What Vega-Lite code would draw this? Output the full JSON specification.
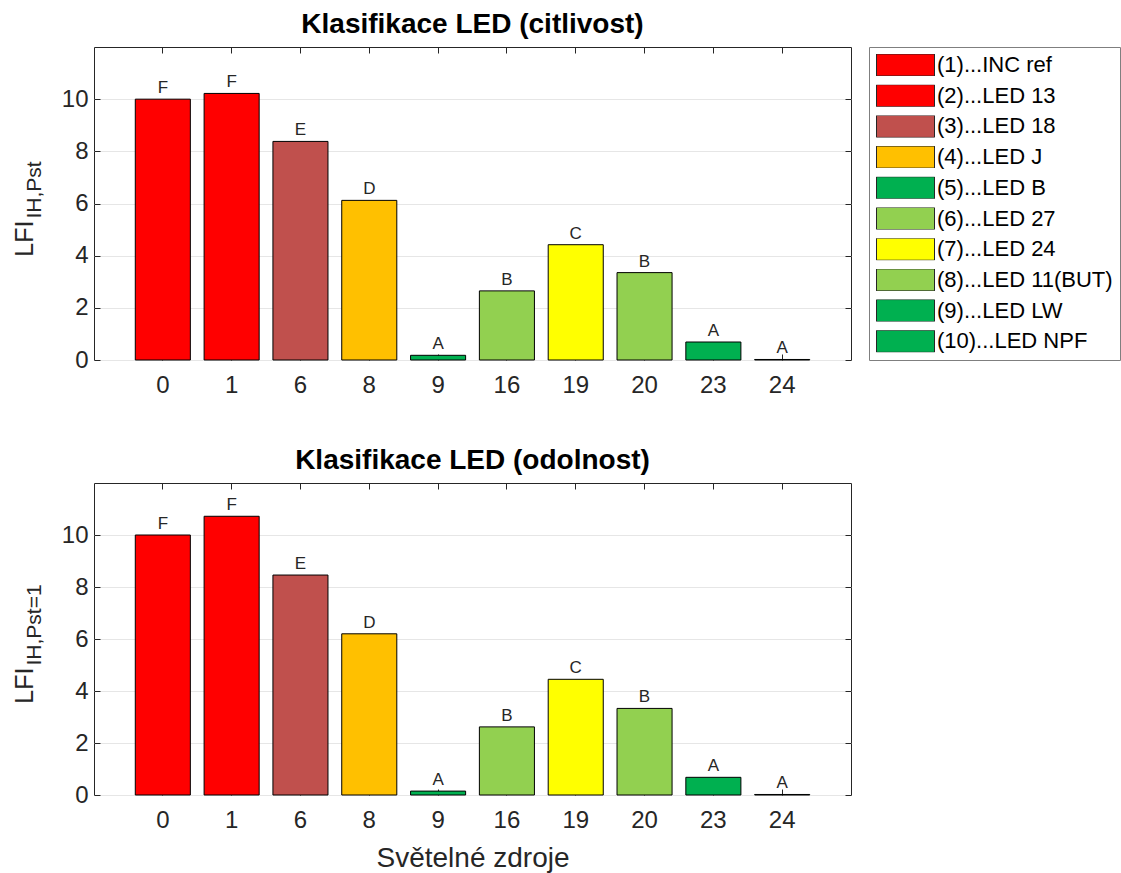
{
  "$schema": "https://vega.github.io/schema/vega-lite/v6.json",
  "background": "white",
  "padding": {"left": 11, "top": 10, "right": 0, "bottom": 5},
  "datasets": {
    "bars": [
      {"panel": "citlivost", "src": 0, "name": "(1)...INC ref", "value": 10.0, "grade": "F"},
      {"panel": "citlivost", "src": 1, "name": "(2)...LED 13", "value": 10.22, "grade": "F"},
      {"panel": "citlivost", "src": 6, "name": "(3)...LED 18", "value": 8.38, "grade": "E"},
      {"panel": "citlivost", "src": 8, "name": "(4)...LED J", "value": 6.12, "grade": "D"},
      {"panel": "citlivost", "src": 9, "name": "(5)...LED B", "value": 0.18, "grade": "A"},
      {"panel": "citlivost", "src": 16, "name": "(6)...LED 27", "value": 2.65, "grade": "B"},
      {"panel": "citlivost", "src": 19, "name": "(7)...LED 24", "value": 4.42, "grade": "C"},
      {"panel": "citlivost", "src": 20, "name": "(8)...LED 11(BUT)", "value": 3.35, "grade": "B"},
      {"panel": "citlivost", "src": 23, "name": "(9)...LED LW", "value": 0.69, "grade": "A"},
      {"panel": "citlivost", "src": 24, "name": "(10)...LED NPF", "value": 0.02, "grade": "A"},
      {"panel": "odolnost", "src": 0, "name": "(1)...INC ref", "value": 10.0, "grade": "F"},
      {"panel": "odolnost", "src": 1, "name": "(2)...LED 13", "value": 10.72, "grade": "F"},
      {"panel": "odolnost", "src": 6, "name": "(3)...LED 18", "value": 8.46, "grade": "E"},
      {"panel": "odolnost", "src": 8, "name": "(4)...LED J", "value": 6.2, "grade": "D"},
      {"panel": "odolnost", "src": 9, "name": "(5)...LED B", "value": 0.15, "grade": "A"},
      {"panel": "odolnost", "src": 16, "name": "(6)...LED 27", "value": 2.62, "grade": "B"},
      {"panel": "odolnost", "src": 19, "name": "(7)...LED 24", "value": 4.45, "grade": "C"},
      {"panel": "odolnost", "src": 20, "name": "(8)...LED 11(BUT)", "value": 3.33, "grade": "B"},
      {"panel": "odolnost", "src": 23, "name": "(9)...LED LW", "value": 0.68, "grade": "A"},
      {"panel": "odolnost", "src": 24, "name": "(10)...LED NPF", "value": 0.02, "grade": "A"}
    ]
  },
  "config": {
    "font": "Liberation Sans",
    "view": {"stroke": "#262626", "strokeWidth": 1},
    "axis": {
      "labelFont": "Liberation Sans",
      "labelFontSize": 24,
      "labelColor": "#262626",
      "titleFont": "Liberation Sans",
      "titleFontSize": 28,
      "titleFontWeight": "normal",
      "titleColor": "#262626",
      "domain": false,
      "tickColor": "#262626",
      "gridColor": "#e6e6e6"
    },
    "title": {"fontSize": 28, "fontWeight": "bold", "color": "#000000", "offset": 8, "font": "Liberation Sans"}
  },
  "resolve": {"scale": {"color": "independent"}},
  "spacing": 48,
  "vconcat": [
    {
      "width": 757,
      "height": 313,
      "title": {"text": "Klasifikace LED (citlivost)"},
      "data": {"name": "bars"},
      "transform": [{"filter": "datum.panel == 'citlivost'"}],
      "layer": [
        {
          "mark": {"type": "bar", "stroke": "#000000", "strokeWidth": 1},
          "encoding": {
            "x": {"field": "src", "type": "ordinal", "scale": {"paddingInner": 0.2, "paddingOuter": 0.6},
              "axis": {"orient": "bottom", "labelAngle": 0, "tickSize": -6, "labelPadding": 19, "title": null, "grid": false}},
            "y": {"field": "value", "type": "quantitative", "scale": {"domain": [0, 12], "nice": false},
              "axis": {"orient": "left", "values": [0, 2, 4, 6, 8, 10], "tickSize": -6, "labelPadding": 12, "grid": true,
                "title": "LFI", "titleFontSize": 25, "titleBaseline": "middle", "titleAlign": "right", "titleAngle": 270, "titleX": -70, "titleY": 173}},
            "color": {"field": "name", "type": "nominal",
              "scale": {"domain": ["(1)...INC ref", "(2)...LED 13", "(3)...LED 18", "(4)...LED J", "(5)...LED B", "(6)...LED 27", "(7)...LED 24", "(8)...LED 11(BUT)", "(9)...LED LW", "(10)...LED NPF"],
                "range": ["#ff0000", "#ff0000", "#c0504d", "#ffc000", "#00b050", "#92d050", "#ffff00", "#92d050", "#00b050", "#00b050"]},
              "legend": {"orient": "right", "offset": 17, "title": null, "padding": 7,
                "strokeColor": "#7f7f7f", "fillColor": "#ffffff",
                "symbolType": "M-1,-0.38H1V0.38H-1Z", "symbolSize": 3364, "symbolStrokeColor": "#262626", "symbolStrokeWidth": 1,
                "symbolOpacity": 1,
                "labelFontSize": 22, "labelColor": "#000000", "labelFont": "Liberation Sans", "labelLimit": 400, "labelOffset": 2,
                "clipHeight": 22, "rowPadding": 8.7}}
          }
        },
        {
          "mark": {"type": "text", "baseline": "bottom", "dy": -2, "fontSize": 17, "color": "#262626", "font": "Liberation Sans"},
          "encoding": {
            "x": {"field": "src", "type": "ordinal",
              "axis": {"orient": "top", "labels": false, "tickSize": -6, "title": null, "grid": false}},
            "y": {"field": "value", "type": "quantitative",
              "axis": {"orient": "right", "values": [0, 2, 4, 6, 8, 10], "labels": false, "tickSize": -6, "title": null, "grid": false}},
            "text": {"field": "grade", "type": "nominal"}
          }
        },
        {
          "mark": {"type": "text", "text": ""},
          "encoding": {
            "x": {"field": "src", "type": "ordinal", "axis": null},
            "y": {"field": "value", "type": "quantitative",
              "axis": {"orient": "left", "labels": false, "ticks": false, "grid": false,
                "title": "IH,Pst", "titleFontSize": 21, "titleBaseline": "middle", "titleAlign": "left", "titleAngle": 270, "titleX": -60, "titleY": 171}}
          }
        }
      ],
      "resolve": {"axis": {"x": "independent", "y": "independent"}}
    },
    {
      "width": 757,
      "height": 312,
      "title": {"text": "Klasifikace LED (odolnost)"},
      "data": {"name": "bars"},
      "transform": [{"filter": "datum.panel == 'odolnost'"}],
      "layer": [
        {
          "mark": {"type": "bar", "stroke": "#000000", "strokeWidth": 1},
          "encoding": {
            "x": {"field": "src", "type": "ordinal", "scale": {"paddingInner": 0.2, "paddingOuter": 0.6},
              "axis": {"orient": "bottom", "labelAngle": 0, "tickSize": -6, "labelPadding": 19, "title": "Světelné zdroje", "titlePadding": 12, "grid": false}},
            "y": {"field": "value", "type": "quantitative", "scale": {"domain": [0, 12], "nice": false},
              "axis": {"orient": "left", "values": [0, 2, 4, 6, 8, 10], "tickSize": -6, "labelPadding": 12, "grid": true,
                "title": "LFI", "titleFontSize": 25, "titleBaseline": "middle", "titleAlign": "right", "titleAngle": 270, "titleX": -70, "titleY": 184}},
            "color": {"field": "name", "type": "nominal",
              "scale": {"domain": ["(1)...INC ref", "(2)...LED 13", "(3)...LED 18", "(4)...LED J", "(5)...LED B", "(6)...LED 27", "(7)...LED 24", "(8)...LED 11(BUT)", "(9)...LED LW", "(10)...LED NPF"],
                "range": ["#ff0000", "#ff0000", "#c0504d", "#ffc000", "#00b050", "#92d050", "#ffff00", "#92d050", "#00b050", "#00b050"]},
              "legend": null}
          }
        },
        {
          "mark": {"type": "text", "baseline": "bottom", "dy": -2, "fontSize": 17, "color": "#262626", "font": "Liberation Sans"},
          "encoding": {
            "x": {"field": "src", "type": "ordinal",
              "axis": {"orient": "top", "labels": false, "tickSize": -6, "title": null, "grid": false}},
            "y": {"field": "value", "type": "quantitative",
              "axis": {"orient": "right", "values": [0, 2, 4, 6, 8, 10], "labels": false, "tickSize": -6, "title": null, "grid": false}},
            "text": {"field": "grade", "type": "nominal"}
          }
        },
        {
          "mark": {"type": "text", "text": ""},
          "encoding": {
            "x": {"field": "src", "type": "ordinal", "axis": null},
            "y": {"field": "value", "type": "quantitative",
              "axis": {"orient": "left", "labels": false, "ticks": false, "grid": false,
                "title": "IH,Pst=1", "titleFontSize": 21, "titleBaseline": "middle", "titleAlign": "left", "titleAngle": 270, "titleX": -60, "titleY": 182}}
          }
        }
      ],
      "resolve": {"axis": {"x": "independent", "y": "independent"}}
    }
  ]
}
